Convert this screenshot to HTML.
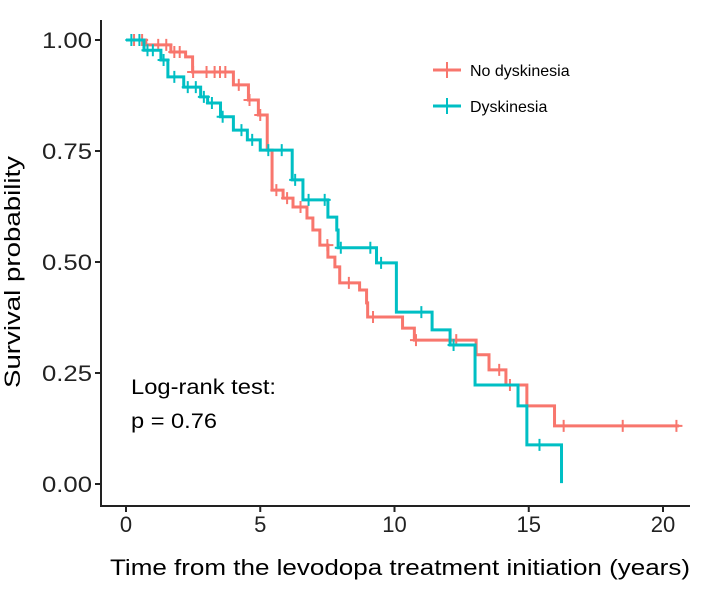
<!DOCTYPE html>
<html><head><meta charset="utf-8"><style>
body{margin:0;background:#fff;}
svg text{font-family:"Liberation Sans",sans-serif;}
</style></head><body>
<svg width="704" height="588" viewBox="0 0 704 588">
<g id="axes"></g>
<g id="plot"></g>
<text x="20" y="272" transform="rotate(-90 20 272)" text-anchor="middle" font-size="22" textLength="232" lengthAdjust="spacingAndGlyphs" fill="#000">Survival probability</text>
<text x="400" y="575" text-anchor="middle" font-size="22" textLength="580" lengthAdjust="spacingAndGlyphs" fill="#000">Time from the levodopa treatment initiation (years)</text>
<text x="131" y="394" font-size="21" textLength="145" lengthAdjust="spacingAndGlyphs" fill="#000">Log-rank test:</text>
<text x="131" y="428" font-size="21" textLength="86" lengthAdjust="spacingAndGlyphs" fill="#000">p = 0.76</text>
<g>
<line x1="433" y1="70" x2="461" y2="70" stroke="#F8766D" stroke-width="3"/>
<line x1="447" y1="62" x2="447" y2="78" stroke="#F8766D" stroke-width="2"/>
<text x="470" y="76" font-size="16" fill="#000">No dyskinesia</text>
<line x1="433" y1="106" x2="461" y2="106" stroke="#00BFC4" stroke-width="3"/>
<line x1="447" y1="98" x2="447" y2="114" stroke="#00BFC4" stroke-width="2"/>
<text x="470" y="112" font-size="16" fill="#000">Dyskinesia</text>
</g>
</svg>
<script>
const xTicks=[0,5,10,15,20];
const yTicks=[0,0.25,0.5,0.75,1];
const yTickLabels=["0.00","0.25","0.50","0.75","1.00"];
const redTimes=[0.74,1.67,2.22,2.48,4.0,4.56,4.93,5.26,5.44,5.85,6.22,6.74,6.96,7.22,7.52,7.78,7.96,8.7,8.96,9.0,10.3,10.74,13.04,13.52,14.15,14.93,15.96];
const redSurv=[0.989,0.973,0.962,0.928,0.899,0.865,0.831,0.752,0.662,0.644,0.624,0.599,0.572,0.538,0.511,0.489,0.453,0.437,0.408,0.376,0.351,0.324,0.291,0.257,0.223,0.176,0.131];
const redEnd=20.6;
const redCensor=[0.3,0.6,1.2,1.5,1.8,2.0,2.5,3.0,3.3,3.5,3.7,4.2,4.6,5.0,5.6,6.0,6.5,7.5,8.3,9.2,10.8,12.3,13.9,14.3,16.3,18.5,20.5];
const tealTimes=[0.67,1.3,1.56,2.15,2.78,3.04,3.52,4.0,4.52,5.0,6.19,6.59,7.52,7.85,7.9,9.33,10.07,11.4,12.07,13.0,14.6,14.93,16.22];
const tealSurv=[0.977,0.955,0.917,0.894,0.872,0.858,0.827,0.797,0.775,0.752,0.685,0.640,0.601,0.572,0.532,0.498,0.387,0.347,0.313,0.223,0.176,0.088,0.002];
const tealEnd=16.22;
const tealCensor=[0.2,0.5,0.8,1.0,1.4,1.8,2.3,2.6,2.9,3.2,3.6,4.3,4.7,5.3,5.8,6.3,6.8,7.4,8.0,9.1,9.5,11.0,12.2,15.4];

const NS="http://www.w3.org/2000/svg";
const X=t=>126+t*26.85;
const Y=v=>484-v*444;
function mk(tag,attrs,parent){const e=document.createElementNS(NS,tag);for(const k in attrs)e.setAttribute(k,attrs[k]);parent.appendChild(e);return e;}
const axes=document.getElementById('axes'),plot=document.getElementById('plot');
let a=mk('path',{d:'M101 20 V506 H690',fill:'none',stroke:'#222','stroke-width':2},axes);


xTicks.forEach(t=>{
 mk('line',{x1:X(t),x2:X(t),y1:506,y2:512,stroke:'#222','stroke-width':2},axes);
 const tx=mk('text',{x:X(t),y:532,'text-anchor':'middle','font-size':22,fill:'#222'},axes);tx.textContent=t;
 
 
});
yTicks.forEach((v,i)=>{
 mk('line',{x1:95,x2:101,y1:Y(v),y2:Y(v),stroke:'#222','stroke-width':2},axes);
 const tx=mk('text',{x:92,y:Y(v)+8,'text-anchor':'end','font-size':22,textLength:50,lengthAdjust:'spacingAndGlyphs',fill:'#222'},axes);tx.textContent=yTickLabels[i];
 
 
});
function survAt(times,surv,t){let s=1;for(let i=0;i<times.length;i++){if(times[i]<=t)s=surv[i];}return s;}
function curve(times,surv,end,censor,color,name){
 let d='M'+X(0)+' '+Y(1);
 times.forEach((t,i)=>{d+=' H'+X(t)+' V'+Y(surv[i]);});
 if(end>times[times.length-1])d+=' H'+X(end);
 const p=mk('path',{d:d,fill:'none',stroke:color,'stroke-width':3},plot);
 
 
 censor.forEach(t=>{
  const y=Y(survAt(times,surv,t));
  const c=mk('path',{d:'M'+(X(t)-6)+' '+y+' H'+(X(t)+6)+' M'+X(t)+' '+(y-6)+' V'+(y+6),stroke:color,'stroke-width':2},plot);
  
  
 });
}
curve(redTimes,redSurv,redEnd,redCensor,'#F8766D','no-dyskinesia');
curve(tealTimes,tealSurv,tealEnd,tealCensor,'#00BFC4','dyskinesia');
</script>
</body></html>
